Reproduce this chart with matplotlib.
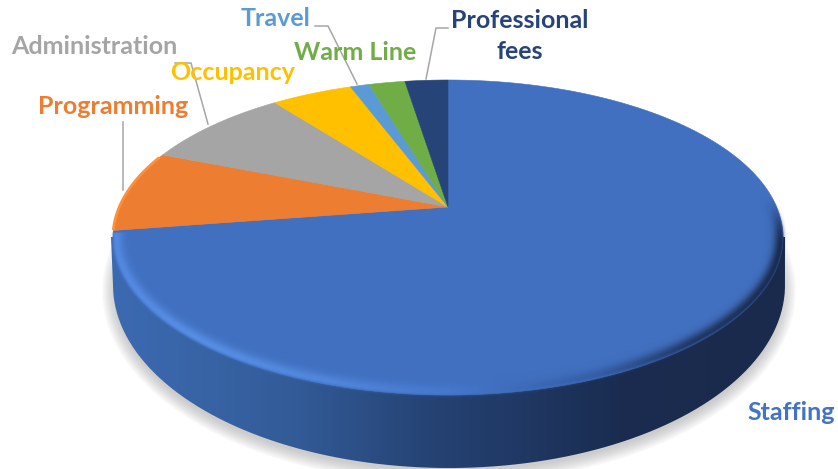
import numpy as np
import matplotlib
matplotlib.use("Agg")
import matplotlib.pyplot as plt
from matplotlib.patches import Ellipse, PathPatch, Polygon
from matplotlib.path import Path
from matplotlib.transforms import Affine2D

# pie data, clockwise from 12 o'clock (percent)
categories = ["Staffing", "Programming", "Administration", "Occupancy", "Travel", "Warm Line", "Professional\nfees"]
shares = [72.6, 8.4, 8.6, 4.7, 1.1, 2.1, 2.5]
colors = ["#4170C0", "#ED7D31", "#A5A5A5", "#FFC000", "#5B9BD5", "#70AD47", "#264478"]
label_colors = ["#4472C4", "#ED7D31", "#A5A5A5", "#FFC000", "#5B9BD5", "#70AD47", "#264478"]
label_pos = [(791, 412), (113, 106), (94, 46), (233, 72), (276, 19), (355, 53), (520, 36)]

# perspective of the tilted disc, in pixels
CX, CY = 448, 207
K = 0.1937
A, B = 328.7, 151.6


def project(xy):
    d = 1 + K * xy[:, 1]
    return np.column_stack([CX + A * xy[:, 0] / d, CY - B * xy[:, 1] / d])


def smooth(v):
    v = np.clip(v, 0, 1)
    return v * v * (3 - 2 * v)


fig = plt.figure(figsize=(8.38, 4.69), dpi=100)
ax = fig.add_axes([0, 0, 1, 1])

wedges, _ = ax.pie(shares, startangle=90, counterclock=False, radius=1, frame=False)
faces = []
for w in wedges:
    # flatten at a large scale, otherwise the arcs come out as a few straight pieces
    to_big = w.get_patch_transform() + Affine2D().scale(2000)
    path = to_big.transform_path(w.get_path())
    faces.append(project(path.to_polygons(closed_only=False)[0] / 2000))
    w.remove()

ax.set_aspect("auto")
ax.set_axis_off()

# soft shadow below the disc
for grow in range(14, 0, -1):
    ax.add_patch(Ellipse((449, 291), 2 * (333 + grow), 2 * (179 + grow), fc="#8c8c8c", ec="none", alpha=0.035, zorder=1))

# side wall with horizontal shading
t = np.linspace(0, np.pi, 200)
wall_pts = np.column_stack([449 + 336 * np.cos(t), 285 + 183 * np.sin(t)])
wall_pts = np.vstack([[785, 237], wall_pts, [111, 237]])
wall = PathPatch(Path(wall_pts), fc="none", ec="none", zorder=2)
ax.add_patch(wall)
stops_x = [110, 200, 300, 420, 520, 620, 790]
stops_c = np.array([[60, 106, 178], [56, 100, 166], [50, 90, 150], [38, 68, 118], [32, 56, 100], [26, 44, 80], [26, 42, 76]]) / 255
xs = np.arange(110, 791)
grad = np.stack([np.interp(xs, stops_x, stops_c[:, i]) for i in range(3)], axis=-1)[None, :, :]
im = ax.imshow(grad, extent=(110, 790, 469, 230), aspect="auto", zorder=2)
im.set_clip_path(wall)

# top face, one polygon per slice
for pts, c in zip(faces, colors):
    ax.add_patch(Polygon(pts, closed=True, fc=c, ec=c, lw=0.4, zorder=3))

# bevel: soft ridge along the front rim of the face
px, py = np.meshgrid(np.arange(838) + 0.5, np.arange(469) + 0.5)
rim_pts = project(np.column_stack([np.sin(t * 2), np.cos(t * 2)]))
ex = (rim_pts[:, 0].max() + rim_pts[:, 0].min()) / 2
ey = (rim_pts[:, 1].max() + rim_pts[:, 1].min()) / 2
erx = np.ptp(rim_pts[:, 0]) / 2
ery = np.ptp(rim_pts[:, 1]) / 2
u, v = (px - ex) / erx, (py - ey) / ery
r = np.sqrt(u ** 2 + v ** 2)
dist = (1 - r) / (np.sqrt((u / erx) ** 2 + (v / ery) ** 2) / r)
ridge = np.where(dist > 3, np.exp(-((dist - 3) / 7) ** 2), np.exp(-((dist - 3) / 3) ** 2))
front = np.where(px < 300, smooth((py - 231) / 3), smooth((py - 195) / 50))
rim_x = [112, 200, 330, 450, 600, 690, 782]
rim_c = np.array([[84, 138, 226], [88, 145, 232], [82, 136, 222], [70, 120, 205], [52, 92, 165], [32, 54, 98], [24, 40, 74]]) / 255
bevel = np.dstack([np.interp(px, rim_x, rim_c[:, i]) for i in range(3)] + [ridge * front * 0.95])
ax.imshow(bevel, extent=(0, 838, 469, 0), aspect="auto", zorder=4)

# orange slice keeps a thin lighter edge
a = np.radians(np.linspace(262, 290, 40))
ax.plot(*project(np.column_stack([np.sin(a), np.cos(a)])).T, color="#FF8F3A", lw=2, zorder=4)

# leader lines
leaders = [
    ([123, 123], [122, 190]),
    ([175, 191, 208], [63, 63, 124]),
    ([315, 328, 357], [26, 26, 84]),
    ([448, 436, 426], [28, 28, 79]),
]
for lx, ly in leaders:
    ax.plot(lx, ly, color="#A6A6A6", lw=1.1, zorder=5)

for name, (x, y), c in zip(categories, label_pos, label_colors):
    ax.text(x, y, name, color=c, family="Lato", weight="bold", fontsize=18, ha="center", va="center", linespacing=1.45, zorder=6)

ax.set_xlim(0, 838)
ax.set_ylim(469, 0)

fig.savefig("out.png", dpi=100)
plt.close(fig)
